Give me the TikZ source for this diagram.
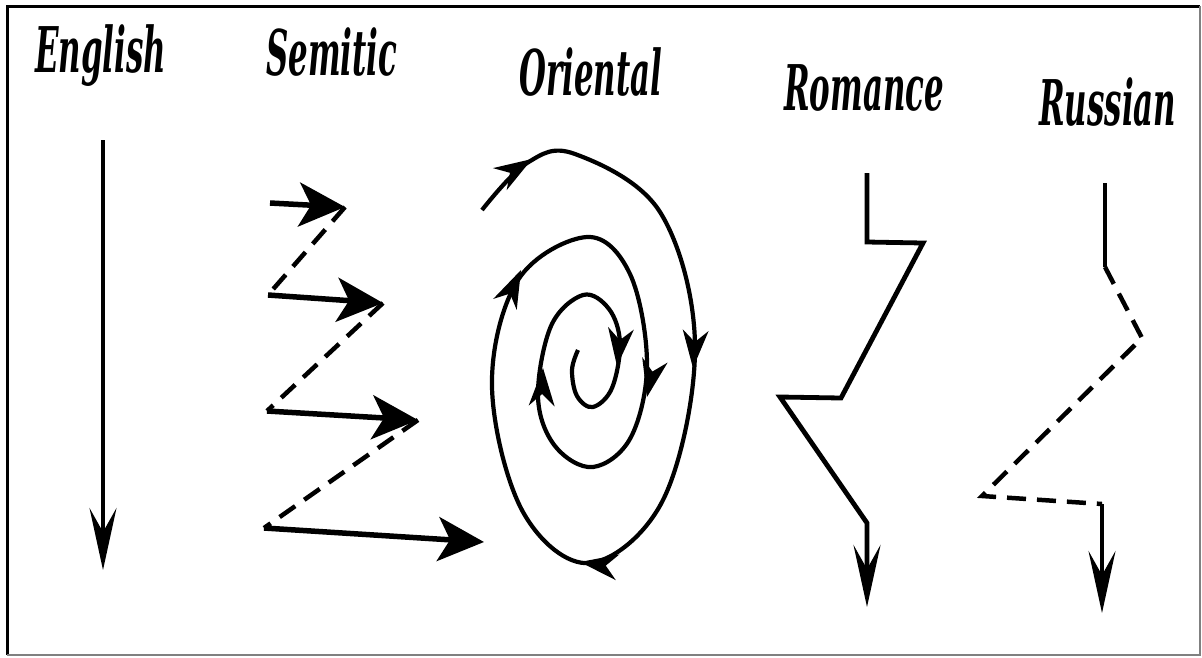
\documentclass[tikz,border=0pt]{standalone}
\usepackage{fontspec}
\usetikzlibrary{arrows.meta}
\newfontfamily\titlefont{DejaVu Serif}
\newcommand\sqz[1]{\scalebox{0.49}[1]{#1}}
\begin{document}
\begin{tikzpicture}[x=1pt,y=-1pt,
  ttl/.style={anchor=base west, inner sep=0pt, font=\titlefont\fontsize{63}{70}\selectfont\bfseries\itshape},
  eng/.style={line width=3.5pt},
  thick4/.style={line width=5.5pt, line join=round},
  dashln/.style={line width=4.5pt, dash pattern=on 19pt off 11pt},
  spiral/.style={line width=4.2pt},
  rom/.style={line width=4.8pt, line join=miter},
  rus/.style={line width=4.2pt},
  rusdash/.style={line width=4.5pt, dash pattern=on 19pt off 11pt, line join=miter},
  bighead/.style={-{Stealth[length=46pt,width=44pt,inset=12pt]}},
  longhead/.style={-{Stealth[length=62pt,width=27pt,inset=24pt]}},
  spiralhead/.pic={\fill (0,0) -- (-38,13) -- (-26,0) -- (-38,-13) -- cycle;}
]
\useasboundingbox (0,0) rectangle (1202,657);
% frame
\draw[line width=3pt] (7,655) -- (7,6) -- (1200,6);
\draw[gray, line width=1.2pt] (7,655) -- (1200,655) -- (1200,6);

% titles
\node[ttl] (tEng) at (35,72) {\sqz{English}};
\node[ttl] (tSem) at (266,75) {\sqz{Semitic}};
\node[ttl] (tOri) at (519,95) {\sqz{Oriental}};
\node[ttl] (tRom) at (784,110) {\sqz{Romance}};
\node[ttl] (tRus) at (1039,125) {\sqz{Russian}};

% English
\coordinate (e0) at (103,140);
\coordinate (e1) at (103,570);
\draw[eng, longhead] (e0) -- (e1);

% Semitic
\coordinate (s1a) at (270,203);
\coordinate (s1b) at (345,207);
\coordinate (s2a) at (268,295);
\coordinate (s2b) at (383,303);
\coordinate (s3a) at (267,411);
\coordinate (s3b) at (418,420);
\coordinate (s4a) at (264,528);
\coordinate (s4b) at (484,542);
\draw[thick4, bighead] (s1a) -- (s1b);
\draw[thick4, bighead] (s2a) -- (s2b);
\draw[thick4, bighead] (s3a) -- (s3b);
\draw[thick4, bighead] (s4a) -- (s4b);
\draw[dashln] (s1b) -- (s2a);
\draw[dashln] (s2b) -- (s3a);
\draw[dashln] (s3b) -- (s4a);

% Oriental spiral
\draw[spiral] plot[smooth, tension=0.6] coordinates {
 (482,210) (527,163) (575,154) (660,212) (695,345) (664,498) (590,563)
 (523,512) (492,387) (518,280) (587,237) (630,274) (647,363) (631,437)
 (593,467) (555,446) (538,397) (551,326) (583,295) (609,309) (620,343)
 (612,388) (593,407) (577,396) (572,370) (578,350)};
\pic[rotate=32] at (532,159) {spiralhead};
\pic[rotate=-94] at (693,368) {spiralhead};
\pic[rotate=172] at (580,562) {spiralhead};
\pic[rotate=65] at (521,270) {spiralhead};
\pic[rotate=-102] at (647,397) {spiralhead};
\pic[rotate=88] at (543,368) {spiralhead};
\pic[rotate=-96] at (617,366) {spiralhead};

% Romance
\coordinate (r0) at (867,173);
\coordinate (r1) at (867,242);
\coordinate (r2) at (923,243);
\coordinate (r3) at (841,398);
\coordinate (r4) at (780,397);
\coordinate (r5) at (867,523);
\coordinate (r6) at (867,607);
\draw[rom, longhead] (r0) -- (r1) -- (r2) -- (r3) -- (r4) -- (r5) -- (r6);

% Russian
\coordinate (u0) at (1105,183);
\coordinate (u1) at (1105,267);
\coordinate (u2) at (1142,338);
\coordinate (u3) at (982,496);
\coordinate (u4) at (1102,504);
\coordinate (u5) at (1102,613);
\draw[rus] (u0) -- (u1);
\draw[rusdash] (u1) -- (u2) -- (u3) -- (u4);
\draw[rus, longhead] (u4) -- (u5);
\end{tikzpicture}
\end{document}
